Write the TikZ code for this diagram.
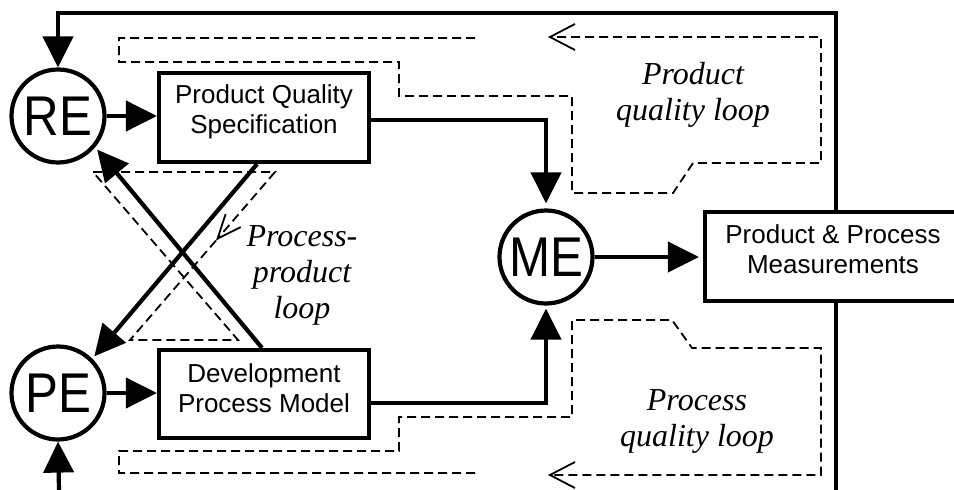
\documentclass[tikz,border=0pt]{standalone}
\usepackage{fontspec}
\setmainfont{Liberation Serif}
\setsansfont{Liberation Sans}
\newfontfamily\circfont[FakeStretch=0.88]{Liberation Sans}
\usetikzlibrary{arrows.meta,calc}
\begin{document}
\begin{tikzpicture}[x=1pt,y=-1pt,
  circ/.style={circle,draw,line width=4.2pt,minimum size=93pt,inner sep=0pt,font=\circfont\fontsize{56}{56}\selectfont},
  boxn/.style={draw,line width=4.2pt,inner sep=0pt},
  boxtxt/.style={align=center,font=\sffamily\fontsize{26}{30}\selectfont},
  conn/.style={line width=4.2pt,-{Triangle[length=31pt,width=30pt]}},
  plainline/.style={line width=4.2pt},
  dloop/.style={line width=1.8pt,dash pattern=on 9pt off 5pt},
  openarr/.style={-{Straight Barb[length=25pt,width=26pt]}},
  openarrsmall/.style={-{Straight Barb[length=24pt,width=20pt]}},
  lbl/.style={align=center,font=\itshape\fontsize{32}{36}\selectfont}
]
\clip (0,0) rectangle (954,490);
\useasboundingbox (0,0) rectangle (954,490);

% nodes
\node[circ] (re) at (58,116) {RE};
\node[circ] (pe) at (58,393) {PE};
\node[circ] (me) at (546,257) {ME};
\node[boxn,minimum width=210pt,minimum height=89pt] (pqs) at (264,117.5) {};
\node[boxtxt] (pqst) at (264,112) {Product Quality\\Specification};
\node[boxn,minimum width=210pt,minimum height=88pt] (dpm) at (264,394) {};
\node[boxtxt] (dpmt) at (264,388) {Development\\Process Model};
\node[boxn,minimum width=262pt,minimum height=89pt] (ppm) at (836,256.5) {};
\node[boxtxt] (ppmt) at (833,249) {Product \& Process\\Measurements};

% labels
\node[lbl] (lpq) at (693,95) {Product\\quality loop};
\node[lbl] (lprq) at (697,421) {Process\\quality loop};
\node[lbl] (lpp) at (302,275) {Process-\\product\\loop};

% coordinates for free ends
\coordinate (ytop) at (0,13);
\coordinate (pebot) at (59,490);
\coordinate (ppmbot) at (836,490);

% solid connectors
\draw[conn] (ppm.north) |- (ytop -| re.north) -- (re.north);
\draw[plainline] (ppm.south) -- (ppmbot);
\draw[conn] (pebot) -- (pe.south);
\draw[conn] (re.east) -- (re.east -| pqs.west);
\draw[conn] (pe.east) -- (pe.east -| dpm.west);
\draw[conn,shorten >=5pt] ($(pqs.east)+(0,2.5)$) -| (me.north);
\draw[conn,shorten >=3pt] ($(dpm.east)+(0,9)$) -| (me.south);
\draw[conn,shorten >=4pt] (me.east) -- (me.east -| ppm.west);
\draw[conn,shorten >=3pt] ($(pqs.south)+(-7,0)$) -- (pe.45);
\draw[conn,shorten >=3pt] ($(dpm.north)+(-2,0)$) -- (re.-40);

% dashed loops
\draw[dloop,openarr] (475,38) -- (119,38) -- (119,62) -- (399,62) -- (399,96) -- (572,96)
  -- (572,193) -- (673,193) -- (693,163) -- (821,163) -- (821,37) -- (548,37);
\draw[dloop,openarr] (475,473) -- (119,473) -- (119,451) -- (399,451) -- (399,417) -- (572,417)
  -- (572,320) -- (672,320) -- (692,348) -- (821,348) -- (821,475) -- (548,475);
\draw[dloop,openarrsmall] (93,172) -- (275,172) -- (216,240.5);
\draw[dloop] (216,240.5) -- (130,340) -- (238,340) -- (93,172);
\end{tikzpicture}
\end{document}
